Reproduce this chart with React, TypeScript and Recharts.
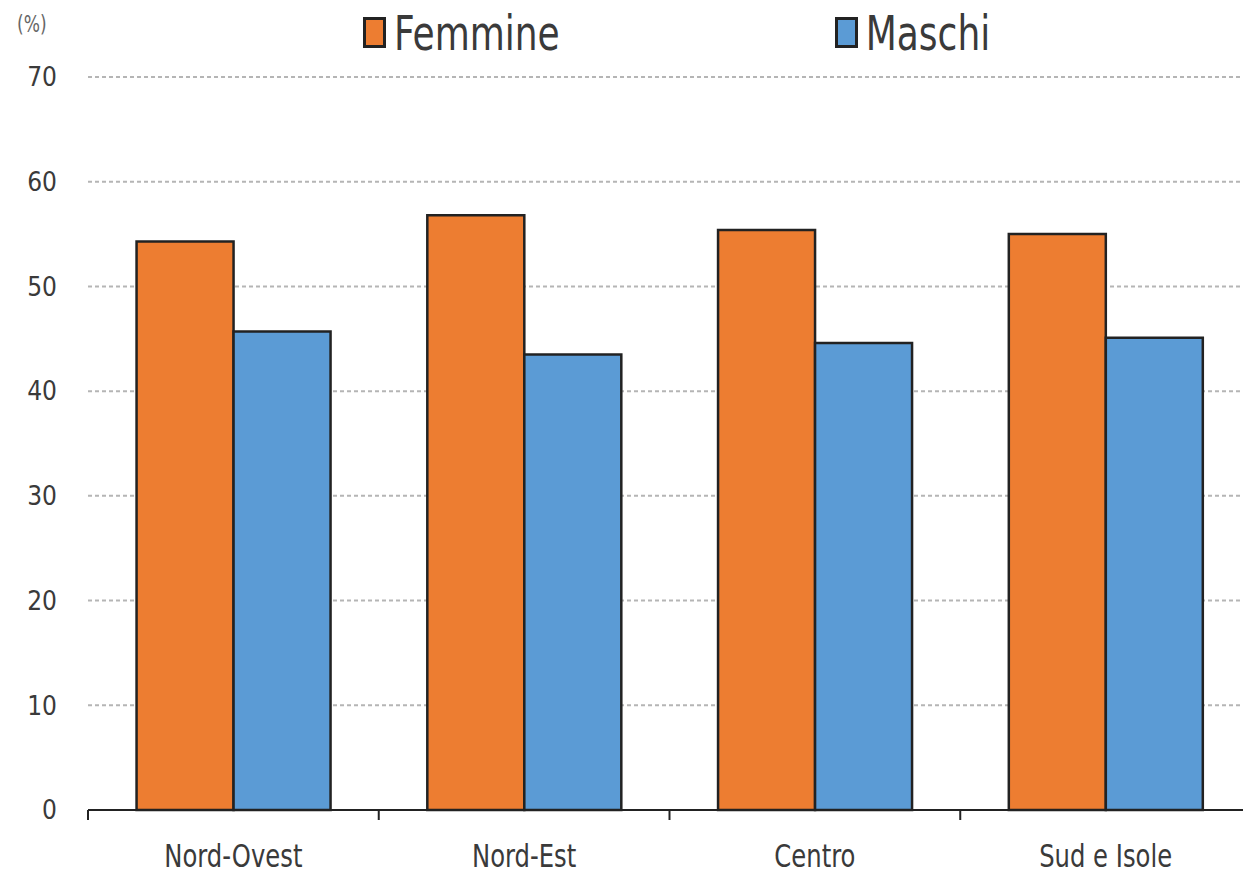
import React from 'react';
import { BarChart, Bar, XAxis, YAxis, CartesianGrid } from 'recharts';

const categories = ['Nord-Ovest', 'Nord-Est', 'Centro', 'Sud e Isole'];
const femmine = [54.3, 56.8, 55.4, 55.0];
const maschi = [45.7, 43.5, 44.6, 45.1];
const yTicks = [0, 10, 20, 30, 40, 50, 60, 70];
const seriesNames = ['Femmine', 'Maschi'];
const seriesColors = ['#ED7D31', '#5B9BD5'];
const unitLabel = '(%)';

const data = categories.map((c, i) => ({ name: c, Femmine: femmine[i], Maschi: maschi[i] }));

const FONT = '"DejaVu Sans Condensed", "DejaVu Sans", "Liberation Sans Narrow", sans-serif';
const TEXT = '#3a3a3a';

function CategoryTick(props: any) {
  const { x, y, payload } = props;
  const off = payload && typeof payload.offset === 'number' ? payload.offset : 0;
  return (
    <g>
      <line x1={x - off} x2={x - off} y1={y} y2={y + 10} stroke="#222" strokeWidth={2} />
      <text
        transform={`translate(${x},${y + 57}) scale(1,1.2)`}
        textAnchor="middle"
        fill={TEXT}
        fontSize={27}
        fontFamily={FONT}
      >
        {payload.value}
      </text>
    </g>
  );
}

export default function App() {
  return (
    <div style={{ position: 'relative', width: 1251, height: 877, margin: -8, background: '#fff', fontFamily: FONT }}>
      <div style={{ position: 'absolute', left: 17, top: 10, fontSize: 19, color: '#666', transform: 'scale(1,1.2)', transformOrigin: '0 0' }}>{unitLabel}</div>
      <div style={{ position: 'absolute', left: 363, top: 11, display: 'flex', alignItems: 'flex-start', gap: 275 }}>
        {seriesNames.map((n, i) => (
          <div key={n} style={{ display: 'flex', alignItems: 'flex-start' }}>
            <span style={{ display: 'inline-block', width: 17, height: 25, background: seriesColors[i], border: '3px solid #222', marginRight: 8, marginTop: 6 }} />
            <span style={{ display: 'inline-block', fontSize: 40, color: TEXT, lineHeight: '50px', transform: 'scale(1,1.2)', transformOrigin: '50% 39px' }}>{n}</span>
          </div>
        ))}
      </div>
      <BarChart width={1251} height={877} data={data} margin={{ top: 77, right: 0, left: 0, bottom: 0 }} barCategoryGap="16.7%" barGap={0}>
        <CartesianGrid vertical={false} stroke="#b5b5b5" strokeWidth={2} strokeDasharray="4 3" />
        <XAxis dataKey="name" axisLine={{ stroke: '#222', strokeWidth: 2 }} tickLine={false} tickSize={0} tickMargin={0} height={67} tick={<CategoryTick />} interval={0} />
        <YAxis domain={[0, 70]} ticks={yTicks} axisLine={false} tickLine={false} tickSize={0} tickMargin={31} width={88} tick={{ fill: TEXT, fontSize: 26, fontFamily: FONT }} interval={0} />
        <Bar dataKey="Femmine" fill={seriesColors[0]} stroke="#222" strokeWidth={2.5} isAnimationActive={false} />
        <Bar dataKey="Maschi" fill={seriesColors[1]} stroke="#222" strokeWidth={2.5} isAnimationActive={false} />
      </BarChart>
    </div>
  );
}
